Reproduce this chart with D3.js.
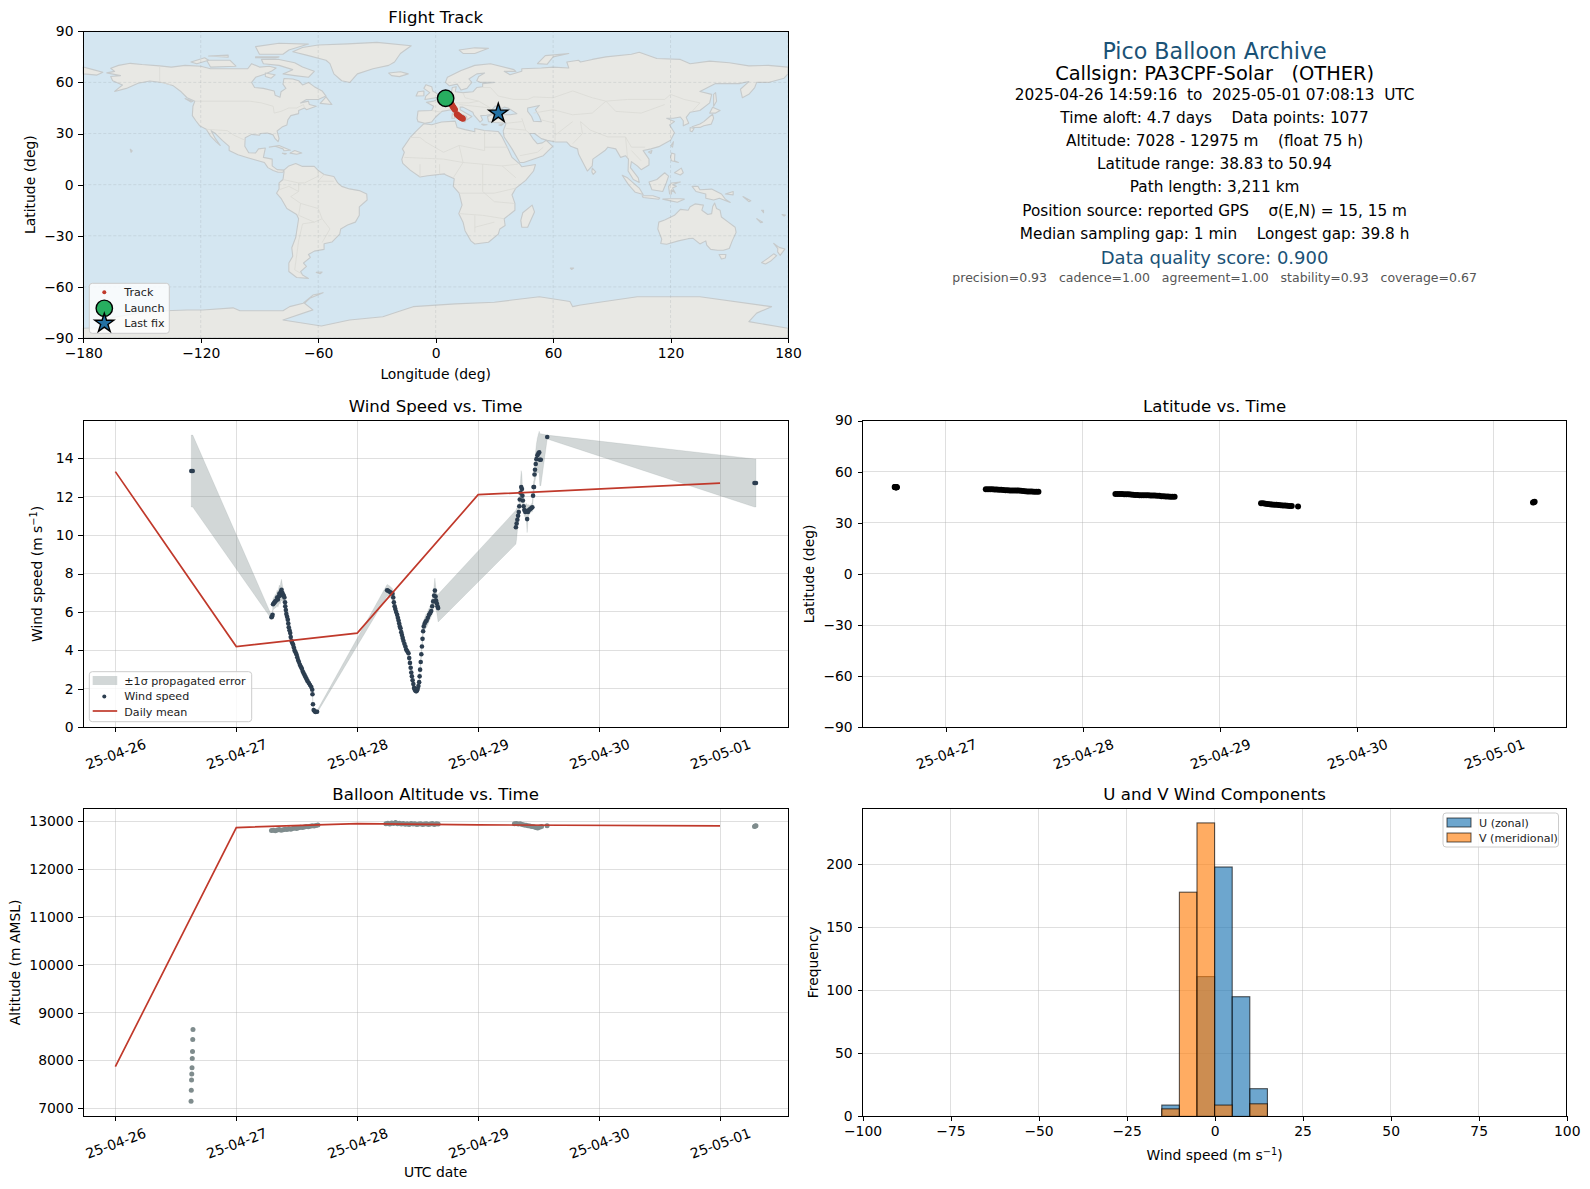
<!DOCTYPE html>
<html lang="en">
  <head>
    <meta charset="UTF-8" />
    <title>Pico Balloon Archive</title>
    <style>
      body { margin: 0; background: #fff; }
      text { font-family: "DejaVu Sans", sans-serif; fill: #000; white-space: pre; }
      .grid line { stroke: #b0b0b0; stroke-opacity: 0.4; stroke-width: 1px; shape-rendering: crispEdges; }
      .map-grid line { stroke: #8a9499; stroke-opacity: 0.25; stroke-width: 0.8px; stroke-dasharray: 3,2; }
      .frame { fill: none; stroke: #000; stroke-width: 1px; shape-rendering: crispEdges; }
      .tick line { stroke: #000; stroke-width: 1px; shape-rendering: crispEdges; }
      .tick text { font-size: 13.9px; }
      .title { font-size: 16.6px; text-anchor: middle; }
      .label { font-size: 13.9px; text-anchor: middle; }
      .legend-text { font-size: 11.1px; fill: #222; }
      .legend-box { fill: rgba(255,255,255,0.8); stroke: #ccc; stroke-width: 1px; }
      .land { fill: #e8e8e4; stroke: #c6cacb; stroke-width: 1.1px; stroke-linejoin: round; }
      .border { fill: none; stroke: #dadad6; stroke-width: 0.8px; }
    </style>
  </head>
  <body>
    <script src="https://cdn.jsdelivr.net/npm/d3@7/dist/d3.min.js"></script>
    <script>

      // days since 2025-04-26 00:00 UTC
      var dailyDays = [0, 1, 2, 3, 5];
      var dailyWind = [13.3, 4.2, 4.9, 12.1, 12.7];
      var dailyAlt = [7870, 12870, 12950, 12925, 12905];
      var dayTicks = [0, 1, 2, 3, 4, 5];

      var windTime = [
        0.628,0.640,1.291,1.296,1.300,1.304,1.310,1.316,1.322,1.330,
        1.338,1.344,1.350,1.356,1.362,1.368,1.374,1.380,1.386,1.392,
        1.398,1.403,1.405,1.410,1.414,1.420,1.426,1.430,1.434,1.440,
        1.446,1.450,1.456,1.462,1.470,1.476,1.482,1.490,1.497,1.504,
        1.511,1.518,1.526,1.534,1.542,1.550,1.558,1.566,1.574,1.582,
        1.590,1.600,1.610,1.620,1.628,1.630,1.634,1.640,1.648,1.656,
        1.668,2.247,2.256,2.268,2.280,2.292,2.298,2.303,2.309,2.315,
        2.322,2.330,2.336,2.342,2.347,2.352,2.358,2.364,2.370,2.376,
        2.382,2.390,2.398,2.405,2.414,2.424,2.430,2.436,2.442,2.447,
        2.452,2.458,2.464,2.470,2.476,2.482,2.488,2.494,2.500,2.506,
        2.512,2.516,2.520,2.525,2.530,2.535,2.540,2.545,2.550,2.558,
        2.566,2.574,2.584,2.594,2.604,2.612,2.620,2.628,2.636,2.642,
        2.648,2.652,2.658,2.664,2.669,3.312,3.318,3.324,3.330,3.336,
        3.340,3.344,3.350,3.356,3.362,3.366,3.370,3.376,3.382,3.390,
        3.398,3.405,3.412,3.420,3.430,3.440,3.448,3.454,3.458,3.462,
        3.466,3.470,3.476,3.482,3.490,3.498,3.505,3.510,3.518,3.571,
        5.285,5.297
      ];
      var windSpeed = [
        13.33,13.33,5.73,5.76,5.85,6.4,6.45,6.5,6.55,6.6,
        6.75,6.65,6.8,6.95,6.85,7.05,7.15,7.0,6.9,6.85,
        6.75,6.5,6.3,6.1,5.9,5.75,5.6,5.4,5.2,5.05,
        4.9,4.7,4.5,4.4,4.3,4.15,4.0,3.9,3.8,3.65,
        3.5,3.4,3.25,3.15,3.05,2.9,2.8,2.7,2.6,2.5,
        2.4,2.3,2.2,2.1,1.95,1.72,1.2,0.9,0.83,0.8,
        0.81,7.13,7.1,7.05,7.0,6.95,6.75,6.5,6.3,6.15,
        6.0,5.85,5.7,5.55,5.4,5.25,5.15,4.95,4.8,4.65,
        4.5,4.35,4.2,4.05,3.95,3.85,3.6,3.35,3.1,2.85,
        2.65,2.45,2.25,2.05,1.95,1.9,1.88,1.92,2.0,2.15,
        2.35,2.65,3.0,3.4,3.8,4.2,4.6,5.0,5.25,5.4,
        5.5,5.55,5.7,5.85,5.95,6.05,6.3,6.55,6.85,7.11,
        6.8,6.6,6.45,6.3,6.2,10.41,10.6,10.8,11.0,11.2,
        11.5,11.85,12.2,12.5,12.4,12.05,11.8,11.5,11.3,11.2,
        11.25,10.83,11.2,11.3,11.35,11.4,11.45,12.05,12.5,12.5,
        13.15,13.4,13.7,13.95,14.15,14.25,14.3,13.92,13.92,15.1,
        12.71,12.71
      ];
      var windSigma = [
        1.87,1.87,0.1,0.1,0.12,0.3,0.3,0.32,0.35,0.35,
        0.38,0.4,0.42,0.45,0.45,0.5,0.55,0.45,0.35,0.3,
        0.25,0.2,0.2,0.2,0.2,0.2,0.2,0.2,0.18,0.18,
        0.18,0.18,0.18,0.18,0.2,0.2,0.2,0.15,0.15,0.15,
        0.14,0.14,0.14,0.14,0.14,0.14,0.14,0.14,0.14,0.14,
        0.12,0.12,0.12,0.12,0.1,0.1,0.08,0.06,0.06,0.06,
        0.06,0.3,0.3,0.3,0.28,0.26,0.24,0.22,0.2,0.2,
        0.2,0.2,0.2,0.2,0.2,0.2,0.2,0.2,0.2,0.2,
        0.18,0.18,0.18,0.18,0.18,0.18,0.18,0.18,0.18,0.18,
        0.15,0.15,0.15,0.15,0.15,0.15,0.15,0.15,0.15,0.15,
        0.15,0.15,0.15,0.15,0.15,0.15,0.2,0.2,0.25,0.3,
        0.35,0.35,0.35,0.35,0.3,0.3,0.35,0.4,0.55,0.65,
        0.6,0.5,0.5,0.6,0.72,0.88,0.8,0.6,0.4,0.3,
        0.3,0.4,0.6,0.85,0.7,0.4,0.3,0.3,0.3,0.3,
        0.4,0.7,0.4,0.25,0.2,0.2,0.25,0.3,0.3,0.35,
        0.5,0.6,0.7,0.8,0.9,1.0,1.1,1.35,1.35,0.1,
        1.25,1.25
      ];

      var fixTime = [
        0.626,0.628,0.630,0.632,0.634,0.636,0.638,0.640,0.642,
        1.291,1.307,1.323,1.339,1.355,1.371,1.387,1.403,1.419,1.435,1.451,1.467,1.483,
        1.499,1.515,1.531,1.547,1.563,1.579,1.595,1.611,1.627,1.643,1.659,1.675,
        2.237,2.253,2.269,2.285,2.301,2.317,2.333,2.349,2.365,2.381,2.397,2.413,2.429,2.445,
        2.461,2.477,2.493,2.509,2.525,2.541,2.557,2.573,2.589,2.605,2.621,2.637,2.653,2.669,
        3.300,3.316,3.332,3.348,3.364,3.380,3.396,3.412,3.428,3.444,3.460,3.476,3.492,3.508,3.524,
        3.570,
        5.285,5.291,5.297
      ];
      var fixAlt = [
        7150,7380,7590,7720,7850,8040,8190,8440,8650,
        12810,12815,12805,12820,12830,12815,12825,12835,12830,12845,12835,12850,12860,
        12850,12865,12875,12870,12880,12890,12885,12895,12905,12900,12915,12925,
        12950,12960,12945,12965,12955,12975,12950,12960,12945,12955,12940,12950,12935,12955,
        12945,12950,12935,12945,12950,12935,12945,12950,12935,12945,12955,12935,12950,12945,
        12950,12955,12945,12950,12935,12925,12920,12905,12900,12890,12885,12870,12860,12875,12890,
        12908,
        12890,12900,12905
      ];
      var fixLat = [
        50.94,50.94,50.9,50.9,50.9,50.85,50.85,50.8,50.8,
        49.7,49.7,49.6,49.6,49.5,49.5,49.4,49.4,49.2,49.1,49.1,49.0,49.0,
        49.0,48.9,48.9,48.8,48.7,48.5,48.4,48.3,48.3,48.2,48.2,48.2,
        46.9,46.9,46.9,46.9,46.8,46.8,46.7,46.6,46.4,46.3,46.3,46.2,46.2,46.1,
        46.1,46.1,46.0,46.0,46.0,45.9,45.8,45.6,45.5,45.4,45.4,45.3,45.3,45.3,
        41.4,41.4,41.2,41.0,40.8,40.7,40.6,40.5,40.4,40.3,40.2,40.1,40.0,39.9,39.9,
        39.6,
        41.9,42.1,42.3
      ];

      var histBins = [-15, -10, -5, 0, 5, 10];
      var histU = [9, 0, 111, 198, 95, 22];
      var histV = [6, 178, 233, 9, 0, 10];
      var histTicks = [-100, -75, -50, -25, 0, 25, 50, 75, 100];

      var trackLon = [8.0,8.3,8.6,8.9,9.2,9.5,9.9,10.8,11.2,11.6,12.0,12.4,12.8,13.2,13.6,13.9];
      var trackLat = [47.3,46.7,46.1,45.6,45.1,44.6,44.0,41.3,40.9,40.5,40.1,39.7,39.4,39.1,38.9,38.7];
      var launchFix = [5.1, 50.7];
      var lastFix = [32, 41.9];

      var mapLand = [
        // North America
        [[-168,65.6],[-164,66.5],[-166,68.3],[-162,70],[-156,71.2],[-150,70.5],[-141,69.7],[-135,69],[-128,70],[-120,69.5],[-115,68],[-108,68],[-100,68],[-96,68],[-94,71],[-90,69],[-85,69.5],[-81.5,68.5],[-84,66.5],[-87,65],[-92,63],[-94,60],[-92.5,57],[-88,56.5],[-82.5,55],[-82,52.5],[-79.5,51.3],[-79,54.5],[-76.5,56.5],[-78,59],[-77.5,62.3],[-73,62],[-70,61],[-68,58.5],[-65,60],[-62,57.5],[-58,55],[-56,52],[-60,50],[-66,50],[-69,48],[-65,49],[-64.5,47],[-61,46],[-66,44],[-67,45],[-70,43.5],[-70,41.7],[-74,40.5],[-75.5,38],[-76,35],[-78.5,33.8],[-81,31.5],[-80,27],[-80.5,25.2],[-82,27],[-83,29.2],[-86,30.3],[-89.5,30],[-90,29],[-94,29.5],[-97.3,27.5],[-97.5,22.5],[-95.5,18.7],[-92,18.6],[-90.5,21],[-87,21.5],[-88,16],[-83.5,15],[-83.5,11],[-81,8.8],[-77.5,8.5],[-78,7.3],[-80.5,7.3],[-83,8.3],[-85.7,10],[-87.5,13],[-92,14.5],[-96,15.8],[-101,17.5],[-105.5,20],[-105.5,22.5],[-109,26],[-112.5,30],[-114.7,31.7],[-112.5,27],[-110,23],[-112,25],[-115,28.5],[-117.2,32.5],[-120.5,34.5],[-122.5,37.5],[-124.3,40.5],[-124,46],[-123,49],[-127,51],[-130,54.5],[-134,58],[-139,59.8],[-146,60.8],[-152,59.5],[-158,56.5],[-164,54.7],[-160,58.5],[-165,61],[-166,63.5],[-161,64]],
        // Greenland and the Arctic islands
        [[-73,78],[-68,80.5],[-60,82],[-45,82.6],[-30,83.5],[-12.5,81.5],[-18,77],[-21,72],[-24,70],[-32,68],[-40,65],[-43.8,60],[-48,61],[-52,65],[-54,71],[-56,73],[-66,76]],
        [[-80,73.5],[-72,71.5],[-68,69],[-62,66.5],[-65,63],[-72,64],[-78,65],[-73,67.5],[-80,70],[-88,71],[-89,73.5]],
        [[-117,73],[-105,73],[-102,69.5],[-115,69]],
        [[-90,76.5],[-78,76.5],[-75,79],[-65,82.5],[-80,83],[-92,81]],
        [[-125,72],[-118,74.5],[-116,73],[-122,71]],
        [[-116,75.5],[-106,76],[-106,74.8]],
        [[-92,75],[-80,75],[-82,74.3],[-92,74.5]],
        [[-87,65.5],[-82,64.5],[-84,62.5],[-87,63.5]],
        [[-59,47.7],[-56,51.5],[-53,47]],
        [[-128,50.5],[-124,49],[-125,48.5]],
        [[-85,22],[-80,23],[-74.2,20.2],[-77.5,19.9],[-78,21],[-82,22.5]],
        [[-74.4,18.5],[-72,20],[-68.4,18.6],[-71,17.8]],
        [[-78.3,18.4],[-76.3,18.2],[-77,17.8]],
        [[-156,20.8],[-155,19.8],[-155.6,19]],
        // South America
        [[-77.5,8.5],[-75,11],[-71.5,12.4],[-68,10.7],[-62,10.7],[-60,8.4],[-57,6],[-52,4.8],[-50,1],[-48,-1],[-44,-2.5],[-39,-3.5],[-35.2,-5.5],[-35,-9],[-39,-13],[-39,-18],[-41,-22],[-45,-23.7],[-48.5,-26],[-49,-29],[-53,-33.7],[-57,-34.7],[-57,-38],[-62,-39],[-65,-41],[-64,-42.7],[-67.5,-46],[-66,-48],[-69,-51],[-68,-53],[-65,-55],[-71,-54.5],[-75,-51],[-75,-46],[-73,-42],[-73.5,-37],[-71.5,-31],[-70,-20],[-71,-17.5],[-76,-14],[-79,-8],[-81.3,-5],[-80,-2.5],[-80,1],[-78,3],[-77.5,7]],
        [[-61,-51.5],[-58,-51.3],[-59,-52.3]],
        // Africa
        [[-6,35.8],[-2,35.2],[3,36.8],[10,37.3],[11,33.5],[15,32.3],[20,31],[20,33],[25,31.8],[32,31.2],[34,28],[37,21],[39,16],[43,12],[44,10.5],[51,11.8],[50,8],[46,2.5],[41,-2],[39,-6],[40.5,-11],[40.5,-15],[35,-20],[35.5,-24],[32.8,-26],[32,-29],[27,-33.8],[20,-34.8],[18,-33],[15,-27],[14,-22],[11.8,-17],[13.5,-12],[12,-5],[9,-1],[9.5,3.5],[5,5.8],[4.5,6.3],[-4,5.2],[-8,4.5],[-13,8.5],[-16.8,12.5],[-17.3,14.8],[-16,19],[-17,21],[-13,27.7],[-9.8,31.5]],
        [[49.3,-12],[50.5,-16],[47,-25],[44,-25],[43.5,-21],[44.5,-16.5]],
        // Eurasia
        [[-9,37],[-9.5,38.8],[-9,43.2],[-2,43.5],[-1,46],[-4.7,48.3],[-1,49],[2,51],[4,52],[8,53.7],[8.5,57],[10.5,57.5],[10,54.5],[14,54],[19,54.5],[21,57],[24,57.5],[24,59.3],[30,60],[23,60],[21,61],[22,63.5],[25,65.5],[21,65],[17,62],[18.5,60],[16,56.5],[13,55.5],[11,59],[7,58],[5,60],[6,63],[13,67],[20,70],[28,71],[40,67.5],[41,66.5],[35,66.5],[38,64.5],[44,66.5],[44,68],[54,68.5],[60,69],[68,68.5],[67,72],[73,73],[74,72],[80,73.5],[87,75],[100,76.5],[104,77.7],[113,74],[125,73.5],[130,71],[140,72.5],[150,71.5],[160,69.7],[170,70],[180,69],[180,65],[178,62.5],[170,60],[164,60],[163,57],[160,53],[156.7,51],[155.7,56],[160,60.5],[155,59.3],[143,59.3],[135,54.7],[141,53],[140,48],[135,43.5],[130,42.5],[128,39.5],[129.3,36],[126.5,34.5],[126.5,37.5],[125,39.7],[121.5,39],[118,39],[122,37],[119.5,35],[122,30.5],[120,26],[114,22.3],[110,21],[106,20],[109,15],[109,11.5],[105,8.8],[103,11],[100,13.5],[99.5,10],[103.5,4],[104,1.3],[101,3],[98.3,8],[98.5,15],[97,17],[94.5,16],[92,21],[88,22],[86.5,20],[80.3,15],[80,11],[77.5,8],[73,18],[72.5,21],[69,22.5],[67,25],[61.5,25],[57,26],[54,27],[50.5,30],[48,30],[50,26.5],[52,24],[54.5,24.5],[56.5,26],[59.8,22.5],[55,17],[45,13],[43,13],[39,21],[35,28],[34.5,31.5],[36,36],[30,36.5],[27,37],[26.5,40],[29,41.1],[31,41],[38,41],[41.5,41.7],[37,45],[35,45.5],[33.5,44.5],[33,46],[30.5,46.2],[28,43],[28.5,41.3],[26,40.7],[23,40.5],[24,38],[22.7,36.7],[19.5,41],[19,42.5],[14,45.5],[12.5,45.5],[12.5,44],[18.5,40],[16,38],[15.8,40],[10.5,43],[8,44],[3.2,43],[0,39.7],[-2,36.8],[-5.5,36]],
        [[-180,69],[-175,67.5],[-170,66],[-173,64.3],[-180,65]],
        // European and Asian islands
        [[-5.5,50],[1.3,51.2],[1.7,52.8],[-1.5,55],[-2,57.5],[-5,58.6],[-6,56.5],[-3,54],[-5,52]],
        [[-10,52],[-6,52.2],[-6,55],[-9,54.5]],
        [[-24,65.5],[-18,66.3],[-14,65],[-18.5,63.4],[-22.5,64]],
        [[12,79],[20,80.3],[27,80],[20,77],[14,77]],
        [[52,71],[57,70.7],[60,75],[68,77],[56,75.7]],
        [[12.5,38],[15.5,38.2],[15,36.7]],
        [[8.3,39],[9.7,39],[9.4,42.8],[8.5,41.5]],
        [[23.5,35.5],[26.3,35.2],[24.5,34.9]],
        [[32.3,35],[34.5,35.6],[33.5,34.6]],
        [[80,9.7],[81.8,7.5],[80.5,6],[79.8,7.5]],
        [[131,34],[135,35.6],[137,37],[140,40],[141.5,41.3],[142,39],[140.8,35.5],[137,34.6],[135,33.6],[132,33.5]],
        [[140,42],[141.5,45.4],[145.3,43.5],[143,42]],
        [[130,33.5],[132,33],[131,31],[130,31.5]],
        [[142,46],[143.5,49],[143,54],[142,53]],
        [[120.2,23],[121.5,25.2],[121,22]],
        [[108.7,19.2],[110.5,20],[110,18.3]],
        [[120,16],[120.5,18.5],[122.2,18],[122,14],[124,13],[120.5,14]],
        [[122,7],[125.5,9.7],[126.5,7],[125,5.7]],
        [[109,1.5],[113,3],[117,7],[119,5],[117.8,1],[116,-4],[110.5,-3]],
        [[95.3,5.5],[98,4],[104,-2],[106,-5.8],[102,-4.5],[98.5,0]],
        [[105.5,-6.5],[111,-6.5],[114.5,-7.8],[114,-8.6],[106,-7.5]],
        [[119.5,-5.5],[119,-1],[120.5,1],[125,1.5],[121,0],[123,-1],[121,-2],[122.5,-5],[120.5,-3],[120.5,-5.5]],
        [[116,-8.5],[119,-8.3],[125,-8.3],[127,-8.5],[123.5,-10.3],[120,-9.5]],
        [[131,-1],[134,-1],[135,-3],[141,-2.6],[146,-5.5],[148,-8.5],[150.5,-10.5],[145,-8],[142,-9],[138,-8],[138,-5.5],[133,-4]],
        [[148,-5.5],[152,-4],[152,-6]],
        [[157,-7],[161,-9.5],[160,-10]],
        [[166.5,-15],[167.5,-15],[167.5,-16.5]],
        [[164,-20],[167,-22],[166,-22.3]],
        [[177,-17.5],[178.7,-17.8],[178,-18.5]],
        // Australia and New Zealand
        [[114,-22],[113.5,-26],[115.5,-32],[115,-34.5],[118,-35],[124,-33],[129,-31.7],[131.5,-31.5],[135,-34.8],[138,-33],[138.5,-35.5],[140.5,-38],[144,-38.5],[147,-38.5],[150,-37.5],[151.5,-33],[153.5,-28],[153,-25],[149.5,-22],[146,-19],[145.3,-15],[143.5,-14],[142.5,-10.8],[141.5,-13],[141,-17],[139,-17.5],[136,-15],[136.8,-12],[132.5,-11.3],[130,-13],[129,-15],[125,-14.5],[122,-18],[117,-20.7]],
        [[144.8,-41],[148.3,-41],[148,-43],[146,-43.6]],
        [[172.7,-34.5],[175.5,-36.8],[178.4,-37.8],[176,-41.5],[174.7,-39.5],[174.8,-37.5]],
        [[172.7,-40.6],[174.2,-41.7],[171,-45],[168.5,-46.6],[166.5,-45.8],[170,-43]],
        [[68.8,-49],[70.5,-49],[69.5,-49.8]],
        // Antarctica
        [[-180,-84.3],[-172,-84],[-165,-78],[-150,-75],[-138,-74],[-127,-73.6],[-119,-73.6],[-103.5,-72.3],[-100,-74],[-78,-74],[-74.6,-71.6],[-67.7,-69.6],[-62.7,-64.8],[-57.5,-63.4],[-64.3,-66.7],[-67,-69.6],[-62.7,-73.5],[-78,-79.4],[-58.4,-83],[-44,-79.4],[-27,-77.5],[-16.6,-73.6],[-11.5,-71.6],[10,-70],[30,-69],[53,-65.8],[68.6,-68.6],[70,-71.6],[74,-70.6],[103,-65.8],[135,-65.8],[171.6,-71.6],[164,-75.4],[160,-80.4],[180,-84.3],[180,-90],[-180,-90]]
      ];

      var mapBorders = [
        [[-123,49],[-95,49],[-89,48],[-83,46],[-82.5,42],[-79,43],[-75,45],[-71,45],[-67.5,47],[-67,45]],
        [[-141,69.7],[-141,60.3],[-135,58.5]],
        [[-117.2,32.5],[-106.5,31.7],[-103,29],[-97.3,26]],
        [[-70,-18],[-69,-11],[-74,-7],[-70,-4],[-70,1],[-67,1],[-60,5],[-60,8]],
        [[-78,3],[-70,1]],[[-80,-3],[-75,-1],[-70,-4]],
        [[-58,-20],[-62,-22],[-70,-18]],[[-62,-22],[-68,-23],[-70,-33],[-72,-50],[-69,-52]],
        [[-58,-20],[-54,-26],[-58,-34]],[[-69,-11],[-60,-14],[-58,-20]],[[-57,6],[-60,2],[-52,2]],
        [[-13,27.7],[-8,27.7],[-5,25],[4,19],[12,23],[25,20],[25,31.8]],[[25,22],[37,22]],
        [[-16,16],[4,15],[14,13],[24,12],[34,11],[42,12]],[[9,4],[14,13]],[[24,12],[24,-4],[30,-10],[40,-11]],
        [[12,-5],[30,-5],[41,-2]],[[12,-17],[24,-18],[35,-20]],[[20,-28],[20,-18]],[[34,11],[41,4]],
        [[-8,4.5],[-8,12]],[[2,6],[2,12]],[[12,23],[14,13]],[[30,-22],[20,-25]],
        [[28,57],[32,52],[40,50],[47,50],[50,51.5],[60,51],[70,55],[80,51],[87,49],[98,50],[107,50],[117,50],[120,53],[127,50],[135,48],[131,43]],
        [[-2,43.5],[3,42.5]],[[2,51],[8,48],[7,44]],[[14,54],[15,51],[22,49],[28,45]],[[24,57],[28,57]],
        [[74,37],[79,32],[88,28],[97,28],[100,22],[107,22]],[[50,42],[60,44],[70,41],[80,42],[87,49]],
        [[44,39],[46,32],[48,30]],[[61,25],[61,36],[54,38]],[[61,29],[70,37]],[[74,37],[75,30],[70,24]],
        [[43,17],[52,19],[55,22]],[[36,33],[46,32]],[[87,49],[92,43],[105,42],[117,47]],
        [[9,48],[17,48],[22,49]],[[12,47],[20,46],[28,45]],[[36,36],[44,37]],[[97,28],[98,16]],[[100,20],[105,14]]
      ];
      var caspianSea = [[47,45],[53,46.5],[51,44],[53,40],[54,37],[50,37.2],[49,40],[47,43]];

      var w = 1590, h = 1189;
      var leftX = [83.3, 788], rightX = [862.5, 1566.7];

      var svg = d3.select("body").append("svg")
        .attr("width", w)
        .attr("height", h);

      var dateFormat = d3.utcFormat("%y-%m-%d");
      function toDate(day) { return new Date(Date.UTC(2025, 3, 26) + day * 86400000); }

      var red = "#c0392b", slate = "#2c3e50", gray = "#7f8c8d";

      // grid first, then the caller draws its marks, then frame() goes on top
      function grid(xScale, yScale, xTicks, yTicks, cls) {
        var g = svg.append("g").attr("class", cls || "grid");
        g.selectAll(".vg").data(xTicks).enter().append("line")
          .attr("x1", xScale).attr("x2", xScale)
          .attr("y1", yScale.range()[0]).attr("y2", yScale.range()[1]);
        g.selectAll(".hg").data(yTicks).enter().append("line")
          .attr("y1", yScale).attr("y2", yScale)
          .attr("x1", xScale.range()[0]).attr("x2", xScale.range()[1]);
      }

      function frame(xScale, yScale, xTicks, yTicks, xFormat, rotate) {
        var x0 = xScale.range()[0], x1 = xScale.range()[1];
        var y0 = yScale.range()[0], y1 = yScale.range()[1];
        svg.append("rect").attr("class", "frame")
          .attr("x", x0).attr("y", y1).attr("width", x1 - x0).attr("height", y0 - y1);

        var xa = svg.append("g")
          .attr("transform", "translate(0," + y0 + ")")
          .call(d3.axisBottom(xScale).tickValues(xTicks).tickFormat(xFormat).tickSize(4.9).tickPadding(4.9));
        xa.select(".domain").remove();
        if (rotate) {
          xa.selectAll("text")
            .attr("y", 0).attr("dy", ".35em")
            .attr("transform", "translate(0,26.8) rotate(-20)");
        }
        var ya = svg.append("g")
          .attr("transform", "translate(" + x0 + ",0)")
          .call(d3.axisLeft(yScale).tickValues(yTicks).tickFormat(d3.format("d")).tickSize(4.9).tickPadding(4.9));
        ya.select(".domain").remove();
      }

      function title(txt, xScale, y) {
        svg.append("text").attr("class", "title")
          .attr("x", (xScale.range()[0] + xScale.range()[1]) / 2).attr("y", y).text(txt);
      }
      // "Wind speed (m s-1)" with a raised exponent
      function windUnit(el) {
        el.text("Wind speed (m s");
        el.append("tspan").attr("dy", -5.5).style("font-size", "9.8px").text("−1");
        el.append("tspan").attr("dy", 5.5).text(")");
      }
      function xLabel(txt, xScale, y) {
        var el = svg.append("text").attr("class", "label")
          .attr("x", (xScale.range()[0] + xScale.range()[1]) / 2).attr("y", y);
        if (txt) { el.text(txt); } else { windUnit(el); }
      }
      function yLabel(txt, yScale, x) {
        var el = svg.append("text").attr("class", "label")
          .attr("transform", "translate(" + x + "," + (yScale.range()[0] + yScale.range()[1]) / 2 + ") rotate(-90)");
        if (txt) { el.text(txt); } else { windUnit(el); }
      }
      function legendBox(x, y, bw, bh) {
        svg.append("rect").attr("class", "legend-box")
          .attr("x", x).attr("y", y).attr("width", bw).attr("height", bh).attr("rx", 3);
      }
      function legendText(txt, x, y) {
        svg.append("text").attr("class", "legend-text")
          .attr("x", x).attr("y", y).attr("dy", ".36em").text(txt);
      }
      function dots(xs, ys, xScale, yScale, r, color) {
        svg.append("g").selectAll("circle").data(xs).enter().append("circle")
          .attr("cx", function(d) { return xScale(d); })
          .attr("cy", function(d, i) { return yScale(ys[i]); })
          .attr("r", r)
          .attr("fill", color);
      }

      //flight track
      var lonScale = d3.scaleLinear().domain([-180, 180]).range(leftX);
      var latScale = d3.scaleLinear().domain([-90, 90]).range([338, 31.3]);
      var mapLine = d3.line()
        .x(function(d) { return lonScale(d[0]); })
        .y(function(d) { return latScale(d[1]); });
      var lonTicks = [-180, -120, -60, 0, 60, 120, 180];
      var latTicks = [-90, -60, -30, 0, 30, 60, 90];

      svg.append("rect")
        .attr("x", leftX[0]).attr("y", 31.3)
        .attr("width", leftX[1] - leftX[0]).attr("height", 338 - 31.3)
        .attr("fill", "#d4e6f1");
      svg.append("g").selectAll("path").data(mapLand).enter().append("path")
        .attr("class", "land")
        .attr("d", function(d) { return mapLine(d) + "Z"; });
      svg.append("path").attr("class", "land")
        .attr("d", mapLine(caspianSea) + "Z")
        .attr("style", "fill:#d4e6f1");
      svg.append("g").selectAll("path").data(mapBorders).enter().append("path")
        .attr("class", "border")
        .attr("d", mapLine);
      grid(lonScale, latScale, lonTicks, latTicks, "map-grid");

      dots(trackLon, trackLat, lonScale, latScale, 3, red);
      svg.append("circle")
        .attr("cx", lonScale(launchFix[0])).attr("cy", latScale(launchFix[1])).attr("r", 8.2)
        .attr("fill", "#27ae60").attr("stroke", "#000").attr("stroke-width", 1.4);
      var star = d3.symbol().type(d3.symbolStar).size(112);
      svg.append("path")
        .attr("d", star)
        .attr("transform", "translate(" + lonScale(lastFix[0]) + "," + latScale(lastFix[1]) + ")")
        .attr("fill", "#2471a3").attr("stroke", "#000").attr("stroke-width", 1.4);

      frame(lonScale, latScale, lonTicks, latTicks, d3.format("d"));
      title("Flight Track", lonScale, 23);
      xLabel("Longitude (deg)", lonScale, 379);
      yLabel("Latitude (deg)", latScale, 35);

      legendBox(89.3, 283.3, 80, 50);
      svg.append("circle").attr("cx", 104.3).attr("cy", 292.3).attr("r", 2).attr("fill", red);
      svg.append("circle").attr("cx", 104.3).attr("cy", 308.3).attr("r", 8.2)
        .attr("fill", "#27ae60").attr("stroke", "#000").attr("stroke-width", 1.4);
      svg.append("path").attr("d", star).attr("transform", "translate(104.3,323.3)")
        .attr("fill", "#2471a3").attr("stroke", "#000").attr("stroke-width", 1.4);
      legendText("Track", 124.3, 292.3);
      legendText("Launch", 124.3, 308.3);
      legendText("Last fix", 124.3, 323.3);

      //summary text
      var infoLines = [
        { t: "Pico Balloon Archive", y: 50.7, size: 22.2, color: "#1a5276" },
        { t: "Callsign: PA3CPF-Solar   (OTHER)", y: 73, size: 19.4, color: "#000" },
        { t: "2025-04-26 14:59:16  to  2025-05-01 07:08:13  UTC", y: 94.3, size: 15.3, color: "#000" },
        { t: "Time aloft: 4.7 days    Data points: 1077", y: 117.6, size: 15.3, color: "#000" },
        { t: "Altitude: 7028 - 12975 m    (float 75 h)", y: 140.3, size: 15.3, color: "#000" },
        { t: "Latitude range: 38.83 to 50.94", y: 163.3, size: 15.3, color: "#000" },
        { t: "Path length: 3,211 km", y: 186.6, size: 15.3, color: "#000" },
        { t: "Position source: reported GPS    σ(E,N) = 15, 15 m", y: 210, size: 15.3, color: "#000" },
        { t: "Median sampling gap: 1 min    Longest gap: 39.8 h", y: 233.2, size: 15.3, color: "#000" },
        { t: "Data quality score: 0.900", y: 257.5, size: 18, color: "#1a5276" },
        { t: "precision=0.93   cadence=1.00   agreement=1.00   stability=0.93   coverage=0.67", y: 277.8, size: 12.5, color: "#555" }
      ];
      svg.append("g").selectAll("text").data(infoLines).enter().append("text")
        .attr("x", (rightX[0] + rightX[1]) / 2)
        .attr("y", function(d) { return d.y; })
        .attr("dy", ".36em")
        .attr("text-anchor", "middle")
        .style("font-size", function(d) { return d.size + "px"; })
        .style("fill", function(d) { return d.color; })
        .text(function(d) { return d.t; });

      //wind speed
      var timeScale = d3.scaleUtc().domain([toDate(-0.265), toDate(5.562)]).range(leftX);
      var windScale = d3.scaleLinear().domain([0, 15.96]).range([727.3, 420.5]);
      var windTicks = [0, 2, 4, 6, 8, 10, 12, 14];
      var dayDates = dayTicks.map(toDate);

      grid(timeScale, windScale, dayDates, windTicks);

      var band = d3.area()
        .x(function(d) { return timeScale(toDate(d)); })
        .y0(function(d, i) { return windScale(Math.max(0, windSpeed[i] - windSigma[i])); })
        .y1(function(d, i) { return windScale(windSpeed[i] + windSigma[i]); });
      svg.append("path")
        .attr("d", band(windTime))
        .attr("fill", gray).attr("fill-opacity", 0.35)
        .attr("stroke", gray).attr("stroke-opacity", 0.15);

      dots(windTime.map(toDate), windSpeed, timeScale, windScale, 2.3, slate);

      var dailyLine = d3.line()
        .x(function(d) { return timeScale(toDate(d)); });
      svg.append("path")
        .attr("d", dailyLine.y(function(d, i) { return windScale(dailyWind[i]); })(dailyDays))
        .attr("fill", "none").attr("stroke", red).attr("stroke-width", 1.7);

      frame(timeScale, windScale, dayDates, windTicks, dateFormat, true);
      title("Wind Speed vs. Time", timeScale, 412);
      yLabel(null, windScale, 42);

      legendBox(89.3, 671.7, 162.4, 50);
      svg.append("rect").attr("x", 92.7).attr("y", 676).attr("width", 24.5).attr("height", 9)
        .attr("fill", gray).attr("fill-opacity", 0.35);
      svg.append("circle").attr("cx", 104.3).attr("cy", 696.5).attr("r", 2).attr("fill", slate);
      svg.append("line").attr("x1", 92.7).attr("x2", 117.2).attr("y1", 711).attr("y2", 711)
        .attr("stroke", red).attr("stroke-width", 1.7);
      legendText("±1σ propagated error", 124.3, 681.5);
      legendText("Wind speed", 124.3, 696.5);
      legendText("Daily mean", 124.3, 712);

      //latitude
      var latTime = d3.scaleUtc().domain([toDate(0.391), toDate(5.531)]).range(rightX);
      var latPlot = d3.scaleLinear().domain([-90, 90]).range([727.3, 420.5]);
      var latDates = dayTicks.slice(1).map(toDate);

      grid(latTime, latPlot, latDates, latTicks);
      dots(fixTime.map(toDate), fixLat, latTime, latPlot, 3, "#000");
      frame(latTime, latPlot, latDates, latTicks, dateFormat, true);
      title("Latitude vs. Time", latTime, 412);
      yLabel("Latitude (deg)", latPlot, 814);

      //altitude
      var altTime = timeScale.copy();
      var altScale = d3.scaleLinear().domain([6829, 13272]).range([1116.5, 808.3]);
      var altTicks = [7000, 8000, 9000, 10000, 11000, 12000, 13000];

      grid(altTime, altScale, dayDates, altTicks);
      dots(fixTime.map(toDate), fixAlt, altTime, altScale, 2.5, gray);
      svg.append("path")
        .attr("d", dailyLine.y(function(d, i) { return altScale(dailyAlt[i]); })(dailyDays))
        .attr("fill", "none").attr("stroke", red).attr("stroke-width", 1.7);
      frame(altTime, altScale, dayDates, altTicks, dateFormat, true);
      title("Balloon Altitude vs. Time", altTime, 800);
      xLabel("UTC date", altTime, 1177);
      yLabel("Altitude (m AMSL)", altScale, 20);

      //histogram
      var histX = d3.scaleLinear().domain([-100, 100]).range(rightX);
      var histY = d3.scaleLinear().domain([0, 244.6]).range([1116.4, 808.3]);
      var histYTicks = [0, 50, 100, 150, 200];

      grid(histX, histY, histTicks, histYTicks);

      function histBars(values, color) {
        svg.append("g").selectAll("rect").data(values).enter().append("rect")
          .attr("x", function(d, i) { return histX(histBins[i]); })
          .attr("width", histX(5) - histX(0))
          .attr("y", function(d) { return histY(d); })
          .attr("height", function(d) { return histY(0) - histY(d); })
          .attr("fill", color)
          .attr("fill-opacity", 0.65)
          .attr("stroke", "#000")
          .attr("stroke-opacity", 0.65)
          .attr("stroke-width", 1.1);
      }
      histBars(histU, "#1f77b4");
      histBars(histV, "#ff7f0e");

      frame(histX, histY, histTicks, histYTicks, d3.format("d"));
      title("U and V Wind Components", histX, 800);
      xLabel(null, histX, 1160);
      yLabel("Frequency", histY, 818);

      legendBox(1443, 813, 115.5, 34);
      svg.append("rect").attr("x", 1447).attr("y", 818).attr("width", 24).attr("height", 9)
        .attr("fill", "#1f77b4").attr("fill-opacity", 0.65)
        .attr("stroke", "#000").attr("stroke-opacity", 0.65);
      svg.append("rect").attr("x", 1447).attr("y", 833).attr("width", 24).attr("height", 9)
        .attr("fill", "#ff7f0e").attr("fill-opacity", 0.65)
        .attr("stroke", "#000").attr("stroke-opacity", 0.65);
      legendText("U (zonal)", 1479, 823);
      legendText("V (meridional)", 1479, 838);

    </script>
  </body>
</html>
